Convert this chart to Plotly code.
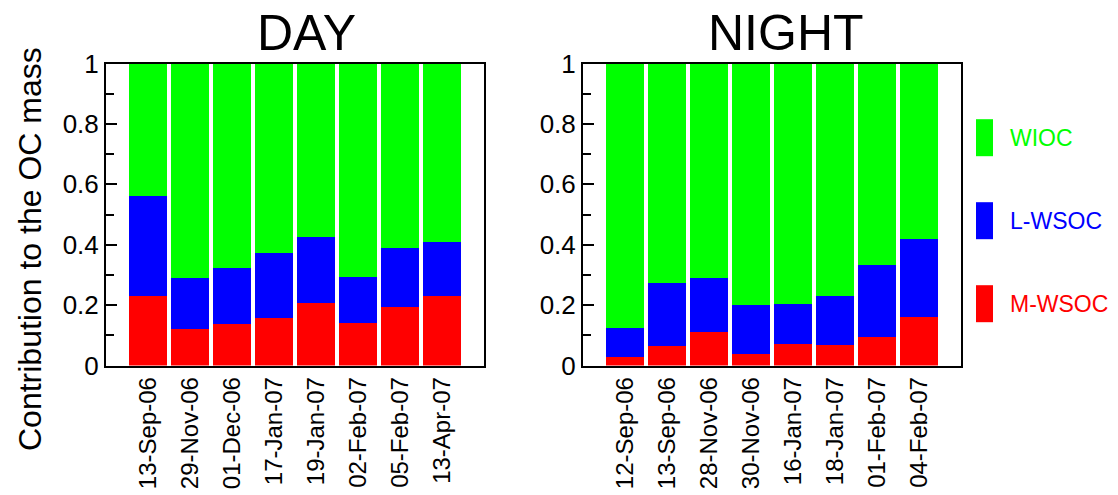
import plotly.graph_objects as go

day_dates = ["13-Sep-06", "29-Nov-06", "01-Dec-06", "17-Jan-07", "19-Jan-07", "02-Feb-07", "05-Feb-07", "13-Apr-07"]
night_dates = ["12-Sep-06", "13-Sep-06", "28-Nov-06", "30-Nov-06", "16-Jan-07", "18-Jan-07", "01-Feb-07", "04-Feb-07"]

day_mwsoc = [0.229, 0.122, 0.137, 0.156, 0.206, 0.141, 0.194, 0.229]
day_lwsoc = [0.333, 0.169, 0.185, 0.218, 0.219, 0.151, 0.194, 0.179]
day_wioc = [0.438, 0.709, 0.678, 0.626, 0.575, 0.708, 0.612, 0.592]

night_mwsoc = [0.027, 0.066, 0.111, 0.037, 0.071, 0.069, 0.094, 0.159]
night_lwsoc = [0.097, 0.206, 0.180, 0.164, 0.132, 0.160, 0.238, 0.259]
night_wioc = [0.876, 0.728, 0.709, 0.799, 0.797, 0.771, 0.668, 0.582]

series_names = ["M-WSOC", "L-WSOC", "WIOC"]
series_colors = ["#FF0000", "#0000FF", "#00FF00"]

y_ticks = [0, 0.2, 0.4, 0.6, 0.8, 1]
y_tick_text = ["0", "0.2", "0.4", "0.6", "0.8", "1"]

FONT = "Liberation Sans, Arial, sans-serif"
W, H = 1118, 495

fig = go.Figure()

panels = [
    ("x", "y", day_dates, [day_mwsoc, day_lwsoc, day_wioc]),
    ("x2", "y2", night_dates, [night_mwsoc, night_lwsoc, night_wioc]),
]
for xa, ya, dates, vals in panels:
    for name, color, v in zip(series_names, series_colors, vals):
        fig.add_trace(go.Bar(
            x=dates, y=v, name=name, xaxis=xa, yaxis=ya,
            marker=dict(color=color, line=dict(width=0)),
            showlegend=False,
        ))

def px_x(p):
    return p / W

def px_y(p):
    return (H - p) / H

ydom = [px_y(365.5), px_y(63.5)]

axis_common = dict(
    showline=True, linecolor="black", linewidth=2, mirror=True, automargin=False,
)
yaxis_common = dict(
    axis_common,
    range=[0, 1], tickmode="array", tickvals=y_ticks, ticktext=y_tick_text,
    ticks="inside", ticklen=11, tickwidth=1.5, tickcolor="black",
    minor=dict(dtick=0.1, ticks="inside", ticklen=8, tickwidth=1.5, tickcolor="black"),
    tickfont=dict(family=FONT, size=26, color="black"),
    showgrid=False, zeroline=False, domain=ydom, fixedrange=True,
)
xaxis_common = dict(
    axis_common,
    type="category", range=[-1, 8], ticks="", tickangle=-90,
    tickfont=dict(family=FONT, size=24, color="black"),
    showgrid=False, zeroline=False,
)

fig.update_layout(
    width=W, height=H,
    margin=dict(l=0, r=0, t=0, b=0, autoexpand=False),
    paper_bgcolor="white", plot_bgcolor="white",
    barmode="stack", bargap=0.1,
    showlegend=False,
    xaxis=dict(xaxis_common, domain=[px_x(106), px_x(484)], anchor="y"),
    yaxis=dict(yaxis_common, anchor="x"),
    xaxis2=dict(xaxis_common, domain=[px_x(583), px_x(961)], anchor="y2"),
    yaxis2=dict(yaxis_common, anchor="x2"),
)

TITLE_FONT = "Liberation Sans Narrow, Arial Narrow, Liberation Sans"
annotations = [
    dict(text="DAY", x=px_x(306), y=px_y(33), xref="paper", yref="paper",
         showarrow=False, xanchor="center", yanchor="middle",
         font=dict(family=TITLE_FONT, size=50, color="black")),
    dict(text="NIGHT", x=px_x(786), y=px_y(33), xref="paper", yref="paper",
         showarrow=False, xanchor="center", yanchor="middle",
         font=dict(family=TITLE_FONT, size=50, color="black")),
    dict(text="Contribution to the OC mass", x=px_x(30), y=px_y(249), xref="paper", yref="paper",
         showarrow=False, xanchor="center", yanchor="middle", textangle=-90,
         font=dict(family=FONT, size=32, color="black")),
]

# custom legend (top to bottom: WIOC, L-WSOC, M-WSOC)
legend_y = [137.7, 220.7, 303.7]
shapes = []
for name, color, cy in zip(series_names[::-1], series_colors[::-1], legend_y):
    shapes.append(dict(type="rect", xref="paper", yref="paper",
                       x0=px_x(976), x1=px_x(993), y0=px_y(cy + 18.5), y1=px_y(cy - 18.5),
                       fillcolor=color, line=dict(width=0)))
    annotations.append(dict(text=name, x=px_x(1008), y=px_y(cy), xref="paper", yref="paper",
                            showarrow=False, xanchor="left", yanchor="middle",
                            font=dict(family=FONT, size=23, color=color)))

fig.update_layout(annotations=annotations, shapes=shapes)

fig.write_html("out.html")
